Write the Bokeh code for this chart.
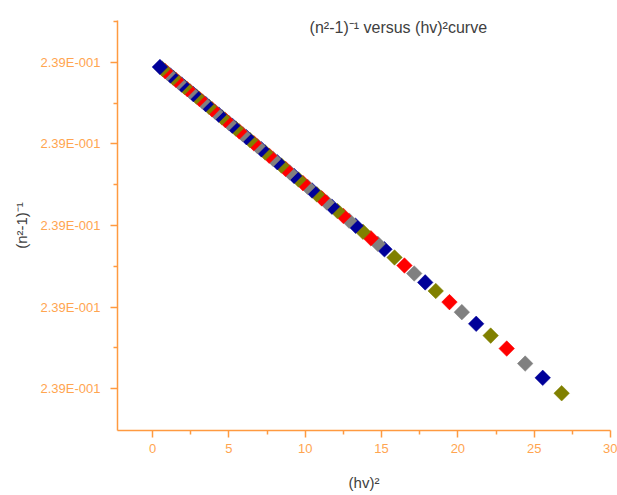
from bokeh.plotting import figure
from bokeh.models import Range1d, FixedTicker, CustomJSTickFormatter, Label, ColumnDataSource
from bokeh.embed import file_html
from bokeh.resources import INLINE

# (hv)^2 values
hv2 = [0.48, 0.65, 0.82, 0.99, 1.17, 1.35, 1.53, 1.71, 1.90, 2.09,
       2.28, 2.47, 2.67, 2.87, 3.07, 3.27, 3.48, 3.69, 3.90, 4.11,
       4.33, 4.55, 4.77, 4.99, 5.22, 5.45, 5.68, 5.91, 6.15, 6.39,
       6.63, 6.88, 7.13, 7.38, 7.64, 7.90, 8.17, 8.44, 8.71, 8.99,
       9.27, 9.56, 9.85, 10.15, 10.45, 10.76, 11.08, 11.41, 11.75, 12.11,
       12.50, 12.88, 13.30, 13.78, 14.30, 14.75, 15.19,
       15.85, 16.50, 17.14, 17.86, 18.55, 19.45, 20.26, 21.20, 22.15,
       23.20, 24.41, 25.56, 26.80]

# (n^2-1)^-1 values
inv_n2m1 = [0.23899945, 0.23899920, 0.23899894, 0.23899868, 0.23899840,
            0.23899813, 0.23899786, 0.23899758, 0.23899729, 0.23899700,
            0.23899672, 0.23899643, 0.23899612, 0.23899582, 0.23899552,
            0.23899521, 0.23899489, 0.23899457, 0.23899425, 0.23899393,
            0.23899360, 0.23899326, 0.23899293, 0.23899259, 0.23899224,
            0.23899189, 0.23899154, 0.23899119, 0.23899083, 0.23899046,
            0.23899010, 0.23898972, 0.23898934, 0.23898896, 0.23898856,
            0.23898817, 0.23898776, 0.23898735, 0.23898694, 0.23898651,
            0.23898608, 0.23898564, 0.23898520, 0.23898475, 0.23898429,
            0.23898382, 0.23898333, 0.23898283, 0.23898231, 0.23898177,
            0.23898117, 0.23898059, 0.23897996, 0.23897923, 0.23897843,
            0.23897775, 0.23897708,
            0.23897608, 0.23897509, 0.23897411, 0.23897302, 0.23897197,
            0.23897060, 0.23896937, 0.23896794, 0.23896649,
            0.23896490, 0.23896306, 0.23896131, 0.23895942]

color_cycle = ["#000099", "#808000", "#FF0000", "#808080"]

x_ticks = [0, 5, 10, 15, 20, 25, 30]
x_minor = [2.5, 7.5, 12.5, 17.5, 22.5, 27.5]
y_ticks = [0.23896, 0.23897, 0.23898, 0.23899, 0.23900]
y_minor = [0.238965, 0.238975, 0.238985, 0.238995, 0.239005]

title_text = "(n\u00b2-1)\u207b\u00b9 versus (hv)\u00b2curve"
x_label = "(hv)\u00b2"
y_label = "(n\u00b2-1)\u207b\u00b9"

colors = [color_cycle[i % 4] for i in range(len(hv2))]
# draw in reverse so earlier points lie on top
src = ColumnDataSource(dict(x=hv2[::-1], y=inv_n2m1[::-1], c=colors[::-1]))

ORANGE = "#FF9A40"
LABEL_ORANGE = "#FFA550"

p = figure(width=617, height=495, output_backend="svg", toolbar_location=None,
           x_range=Range1d(-2.3, 30), y_range=Range1d(0.23895485, 0.23900515),
           min_border_left=117, min_border_right=7, min_border_top=20, min_border_bottom=65)
p.outline_line_color = None
p.xgrid.visible = False
p.ygrid.visible = False
p.background_fill_color = "white"

p.scatter("x", "y", source=src, marker="square", angle=0.785398, size=11,
          fill_color="c", line_color="c", line_width=0.5)

for ax in (p.xaxis[0], p.yaxis[0]):
    ax.axis_line_color = ORANGE
    ax.axis_line_width = 1.5
    ax.major_tick_line_color = ORANGE
    ax.minor_tick_line_color = ORANGE
    ax.major_tick_line_width = 1.5
    ax.minor_tick_line_width = 1.5
    ax.major_tick_out = 7
    ax.major_tick_in = 0
    ax.minor_tick_out = 4
    ax.minor_tick_in = 0
    ax.major_label_text_color = LABEL_ORANGE
    ax.major_label_text_font = "Liberation Sans"
    ax.axis_label_text_font = "Liberation Sans"
    ax.axis_label_text_font_size = "15px"
    ax.axis_label_text_font_style = "normal"
    ax.axis_label_text_color = "#404040"

p.xaxis.major_label_text_font_size = "13px"
p.yaxis.major_label_text_font_size = "13px"
p.xaxis.ticker = FixedTicker(ticks=x_ticks, minor_ticks=x_minor)
p.yaxis.ticker = FixedTicker(ticks=y_ticks, minor_ticks=y_minor)
p.xaxis.major_label_standoff = 6
p.yaxis.major_label_standoff = 10
p.xaxis.axis_label = x_label
p.yaxis.axis_label = y_label
p.xaxis.axis_label_standoff = 18
p.yaxis.axis_label_standoff = 8
p.yaxis.formatter = CustomJSTickFormatter(code="""
const s = tick.toExponential(2);
const parts = s.split('e');
const n = parseInt(parts[1]);
const sign = n < 0 ? '-' : '';
return parts[0] + 'E' + sign + String(Math.abs(n)).padStart(3, '0');
""")

title = Label(x=16.1, y=0.23900429, text=title_text, text_align="center",
              text_baseline="middle", text_font="Liberation Sans",
              text_font_size="16px", text_color="#404040")
p.add_layout(title)

open("out.html", "w").write(file_html(p, INLINE))
